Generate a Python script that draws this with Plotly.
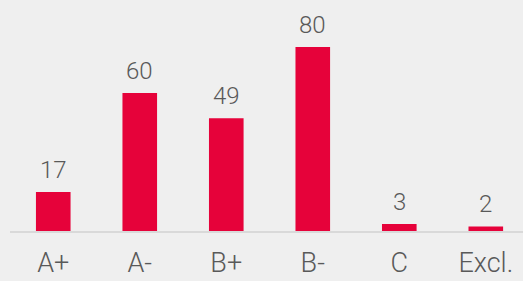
import plotly.graph_objects as go

categories = ["A+", "A-", "B+", "B-", "C", "Excl."]
values = [17, 60, 49, 80, 3, 2]

BAR_COLOR = "#E6023A"
TEXT_COLOR = "#595959"
BG = "#EFEFEF"
FONT = "Roboto"

fig = go.Figure()
fig.add_trace(go.Bar(
    x=categories,
    y=values,
    marker=dict(color=BAR_COLOR, line=dict(width=0)),
    hoverinfo="skip",
))

for c, v in zip(categories, values):
    fig.add_annotation(
        x=c, y=v, text=str(v), showarrow=False,
        yanchor="bottom", yshift=6,
        font=dict(family=FONT, size=24, color=TEXT_COLOR, weight=300),
    )

fig.update_layout(
    width=523, height=281,
    margin=dict(l=10, r=0, t=10, b=50, autoexpand=False),
    paper_bgcolor=BG, plot_bgcolor=BG,
    bargap=0.6,
    showlegend=False,
    xaxis=dict(
        type="category",
        range=[-0.5, 5.43],
        automargin=False,
        showgrid=False, zeroline=False,
        showline=True, linecolor="#D9D9D9", linewidth=2,
        layer="below traces",
        ticks="",
        tickfont=dict(family=FONT, size=27, color=TEXT_COLOR, weight=300),
        ticklabelstandoff=7,
    ),
    yaxis=dict(
        range=[0, 96.1],
        visible=False,
        automargin=False,
        showgrid=False, zeroline=False,
    ),
)

fig.write_html(
    "out.html",
    config={"displayModeBar": False},
    post_script="document.body.style.margin='0';document.body.style.overflow='hidden';",
)
